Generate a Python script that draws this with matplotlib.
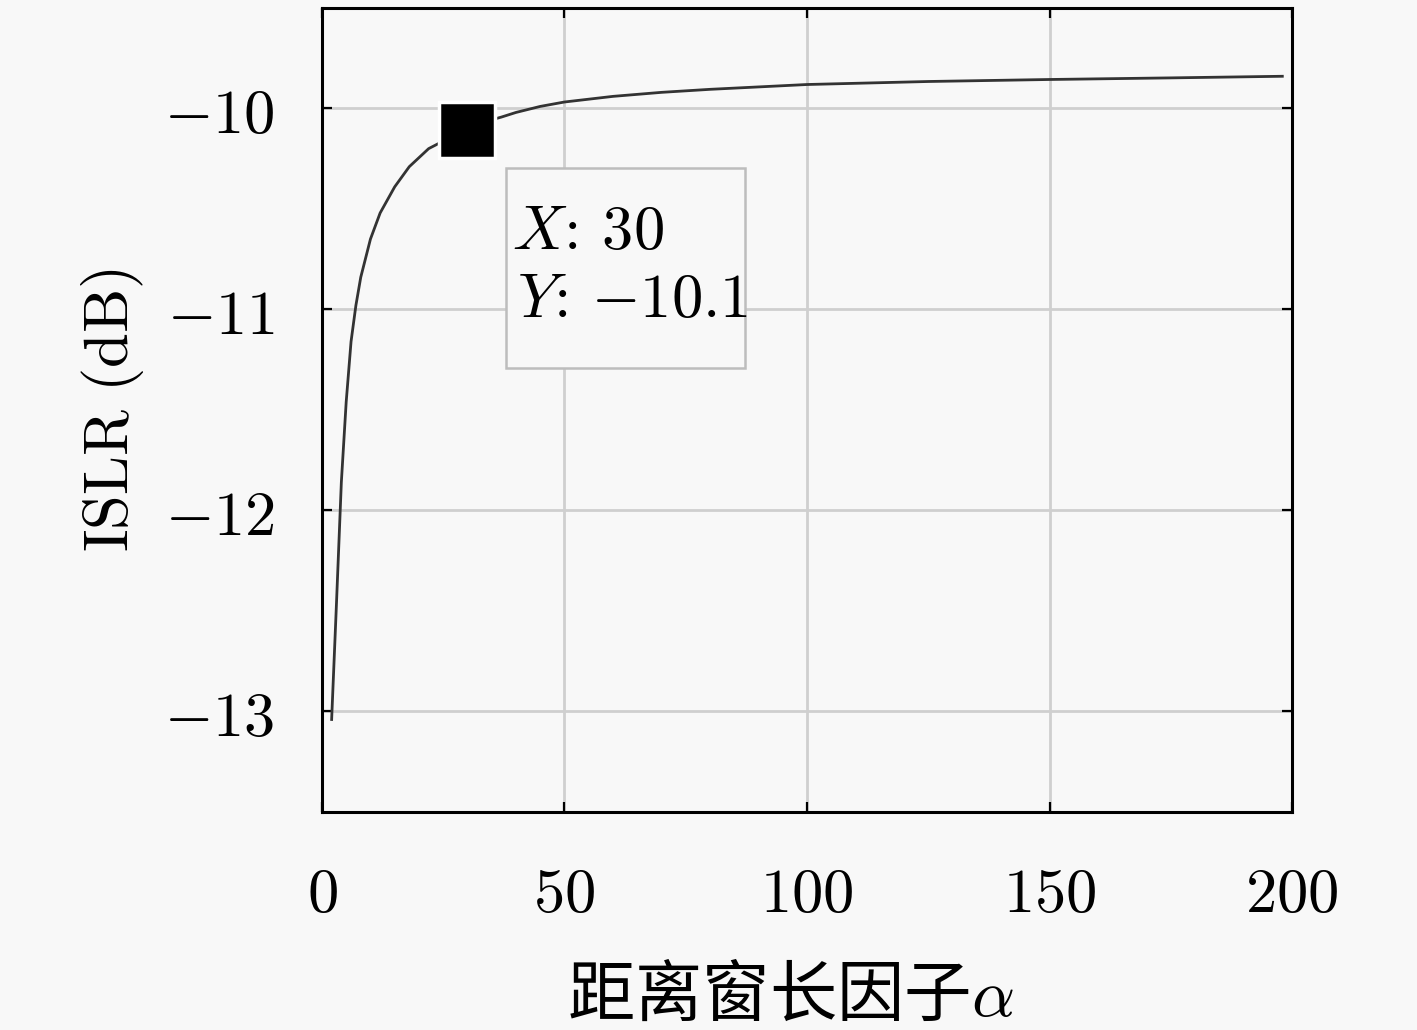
import matplotlib
matplotlib.use("Agg")
import matplotlib.pyplot as plt
from matplotlib.patches import Rectangle
from matplotlib.transforms import Affine2D, ScaledTranslation

plt.rcParams['mathtext.fontset'] = 'cm'
plt.rcParams['font.family'] = ['Noto Sans CJK SC', 'DejaVu Sans']

# values
alpha = [2, 3, 4, 5, 6, 7, 8, 10, 12, 15, 18, 22, 26, 30, 33, 37, 40, 45, 50,
         60, 70, 80, 100, 125, 150, 175, 198]
islr = [-13.04, -12.46, -11.86, -11.46, -11.16, -10.98, -10.84, -10.65, -10.52,
        -10.39, -10.29, -10.20, -10.15, -10.105, -10.07, -10.043, -10.02, -9.99,
        -9.968, -9.94, -9.92, -9.905, -9.881, -9.866, -9.856, -9.848, -9.840]
tip_x, tip_y = 30, -10.105
xticks = [0, 50, 100, 150, 200]
yticks = [-13, -12, -11, -10]

bg = '#f8f8f8'
fig = plt.figure(figsize=(14.17, 10.30), dpi=100, facecolor=bg)
ax = fig.add_axes([0.2272, 0.2117, 0.6846, 0.7806], facecolor=bg)

ax.plot(alpha, islr, color='#333333', lw=2.0, zorder=3)
ax.plot([tip_x], [tip_y], marker='s', ms=40, color='black',
        mec='white', mew=2.5, zorder=4)

ax.set_xlim(0, 200)
ax.set_ylim(-13.5, -9.5)
ax.set_xticks(xticks)
ax.set_yticks(yticks)
ax.set_xticklabels([r'$%d$' % v for v in xticks])
ax.set_yticklabels([r'$%d$' % v for v in yticks])
ax.tick_params(direction='in', length=7, width=1.6, labelsize=45,
               top=True, right=True, colors='black')
ax.tick_params(axis='x', pad=36)
ax.tick_params(axis='y', pad=34)
ax.grid(True, color='#cfcfcf', lw=2.0, zorder=0)
ax.set_axisbelow(True)
for s in ax.spines.values():
    s.set_linewidth(2.2)

ax.set_ylabel(r'$\mathrm{ISLR\ (dB)}$', fontsize=45, labelpad=13)
ax.set_xlabel(r'距离窗长因子$\alpha$', fontsize=48.5)
ax.xaxis.set_label_coords(0.4825, -0.186)

# data tip box, placed relative to the marked point (sizes in points)
pt = Affine2D().scale(fig.dpi / 72.0)
anchor = ScaledTranslation(tip_x, tip_y, ax.transData)
box_tr = pt + anchor
ax.add_patch(Rectangle((28, -172), 172, 144, transform=box_tr,
                       facecolor=bg, edgecolor='#bdbdbd', lw=1.8,
                       zorder=5, clip_on=False))
ax.text(32, -55, r'$X$: 30', transform=box_tr, family='cmr10',
        fontsize=45, va='top', ha='left', zorder=6)
ax.text(36, -104, r'$Y$: $-$10.1', transform=box_tr, family='cmr10',
        fontsize=45, va='top', ha='left', zorder=6)

fig.savefig('out.png', dpi=100, facecolor=bg)
